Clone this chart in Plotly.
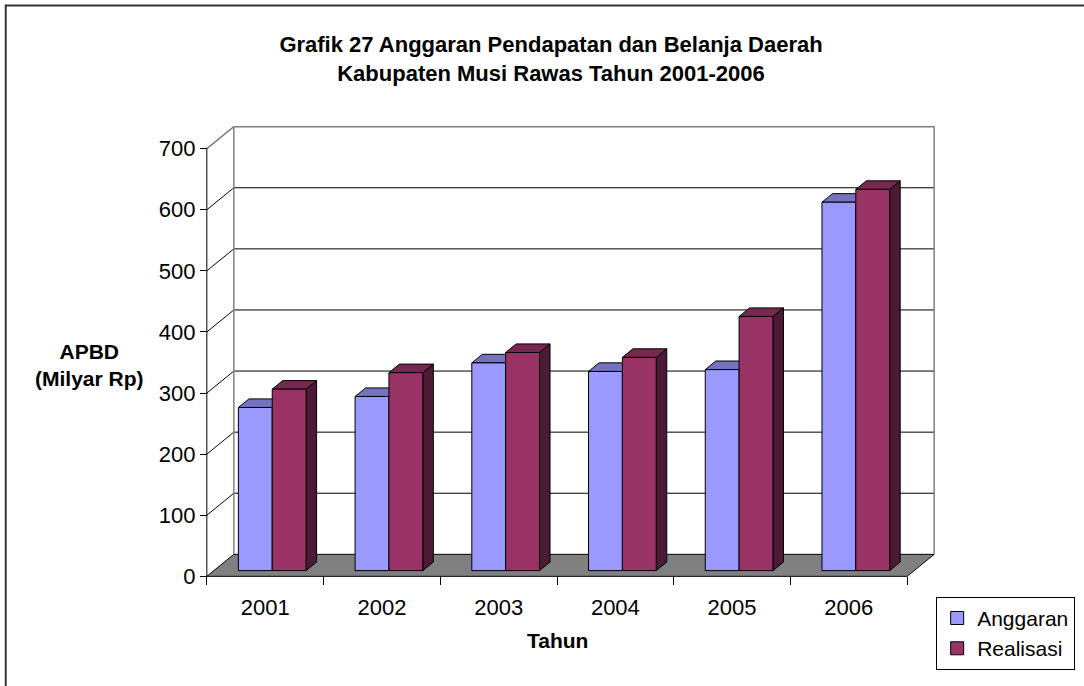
import plotly.graph_objects as go

# ---------------- data ----------------
years = ["2001", "2002", "2003", "2004", "2005", "2006"]
anggaran = [267, 285, 340, 326, 329, 603]
realisasi = [297, 324, 357, 349, 416, 624]
y_ticks = [0, 100, 200, 300, 400, 500, 600, 700]
series_names = ["Anggaran", "Realisasi"]

# ---------------- styling / geometry ----------------
W, H = 1084, 686
FONT = "Arial, Liberation Sans, sans-serif"
DX = 0.2314   # floor depth (x units)
DY = 36.0     # floor depth (value units)
F_FRONT, F_BACK = 0.26, 0.65   # bar depth fractions
BAR_W = 0.29
Y_MAX = 700

COL = {
    "Anggaran": dict(front="#9999FF", top="#7373BF", side="#5C5C99"),
    "Realisasi": dict(front="#993366", top="#772850", side="#4C1A34"),
}

PX_X = 700 / 6
PX_Y = 0.6107
X_AXIS_PX, Y_ZERO_PX = 207, 576.5
PAD_X, PAD_Y = 0.05, 6
n = len(years)
xr = [-0.5 - PAD_X, n - 0.5 + DX + PAD_X]
yr = [-PAD_Y, Y_MAX + DY + PAD_Y]
plot_w = (xr[1] - xr[0]) * PX_X
plot_h = (yr[1] - yr[0]) * PX_Y
ml = X_AXIS_PX - PAD_X * PX_X
mr = W - ml - plot_w
mb = H - (Y_ZERO_PX + PAD_Y * PX_Y)
mt = H - mb - plot_h


def paper_x(px):
    return (px - ml) / plot_w


def paper_y(py):
    return (H - mb - py) / plot_h


fig = go.Figure()


def seg_trace(xs, ys, color, width=1, fill=None, fillcolor=None):
    fig.add_trace(go.Scatter(x=xs, y=ys, mode="lines",
                             line=dict(color=color, width=width),
                             fill=fill, fillcolor=fillcolor,
                             hoverinfo="skip", showlegend=False))


x_left, x_right = -0.5, n - 0.5

# floor
seg_trace([x_left, x_right, x_right + DX, x_left + DX, x_left],
          [0, 0, DY, DY, 0], "#000000", 1, "toself", "#808080")

# back wall gridlines (black) and left-wall diagonals
gx, gy = [], []
for v in y_ticks[1:-1]:
    gx += [x_left + DX, x_right + DX, None]
    gy += [v + DY, v + DY, None]
seg_trace(gx, gy, "#000000", 1)
dxs, dys = [], []
for v in y_ticks[1:-1]:
    dxs += [x_left, x_left + DX, None]
    dys += [v, v + DY, None]
seg_trace(dxs, dys, "#000000", 1)
# wall edges (gray)
seg_trace([x_left, x_left + DX, x_left + DX, None, x_left + DX, x_right + DX, x_right + DX],
          [Y_MAX, Y_MAX + DY, DY, None, Y_MAX + DY, Y_MAX + DY, DY], "#808080", 1.5)

# y axis line
seg_trace([x_left, x_left], [0, Y_MAX], "#000000", 1)

# bars
fdx, fdy = F_FRONT * DX, F_FRONT * DY
bdx, bdy = F_BACK * DX, F_BACK * DY
for si, (name, vals) in enumerate(zip(series_names, [anggaran, realisasi])):
    fx, fy, tx, ty, sx, sy = [], [], [], [], [], []
    for i, v in enumerate(vals):
        x0 = i - BAR_W + si * BAR_W
        x1 = x0 + BAR_W
        fx += [x0 + fdx, x1 + fdx, x1 + fdx, x0 + fdx, x0 + fdx, None]
        fy += [fdy, fdy, v + fdy, v + fdy, fdy, None]
        tx += [x0 + fdx, x1 + fdx, x1 + bdx, x0 + bdx, x0 + fdx, None]
        ty += [v + fdy, v + fdy, v + bdy, v + bdy, v + fdy, None]
        sx += [x1 + fdx, x1 + bdx, x1 + bdx, x1 + fdx, x1 + fdx, None]
        sy += [fdy, bdy, v + bdy, v + fdy, fdy, None]
    c = COL[name]
    seg_trace(sx, sy, "#000000", 1, "toself", c["side"])
    seg_trace(tx, ty, "#000000", 1, "toself", c["top"])
    seg_trace(fx, fy, "#000000", 1, "toself", c["front"])

# legend entries
for name in series_names:
    fig.add_trace(go.Scatter(x=[None], y=[None], mode="markers", name=name,
                             legendgroup=name,
                             marker=dict(symbol="square", size=13, color=COL[name]["front"],
                                         line=dict(color="#000000", width=1))))

fig.update_layout(
    width=W, height=H,
    margin=dict(l=ml, r=mr, t=mt, b=mb, autoexpand=False),
    paper_bgcolor="white", plot_bgcolor="white",
    font=dict(family=FONT, size=21, color="black"),
    title=dict(text="<b>Grafik 27 Anggaran Pendapatan dan Belanja Daerah<br>"
                    "Kabupaten Musi Rawas Tahun 2001-2006</b>",
               x=551 / W, xref="container", xanchor="center",
               y=1 - 52 / H, yref="container", yanchor="middle",
               font=dict(size=22, family=FONT)),
    xaxis=dict(range=xr, tickmode="array", tickvals=list(range(n)), ticktext=years,
               ticks="outside", ticklen=11, tickcolor="rgba(0,0,0,0)",
               minor=dict(tickmode="array",
                          tickvals=[i - 0.5 for i in range(n + 1)],
                          ticks="outside", ticklen=8, tickcolor="black", tickwidth=1,
                          showgrid=False),
               showgrid=False, zeroline=False, showline=False,
               anchor="free", position=paper_y(Y_ZERO_PX),
               tickfont=dict(size=22)),
    yaxis=dict(range=yr, tickmode="array", tickvals=y_ticks,
               ticks="outside", ticklen=7, tickcolor="black", tickwidth=1,
               showgrid=False, zeroline=False, showline=False,
               anchor="free", position=paper_x(X_AXIS_PX),
               tickfont=dict(size=22)),
    legend=dict(x=paper_x(936), y=paper_y(597), xanchor="left", yanchor="top",
                bordercolor="black", borderwidth=1, bgcolor="white",
                font=dict(size=21), tracegroupgap=0, traceorder="grouped",
                itemwidth=30),
    annotations=[
        dict(text="<b>APBD<br>(Milyar Rp)</b>", x=paper_x(90), y=paper_y(365),
             xref="paper", yref="paper", showarrow=False, xanchor="center",
             yanchor="middle", font=dict(size=21)),
        dict(text="<b>Tahun</b>", x=paper_x(558), y=paper_y(641),
             xref="paper", yref="paper", showarrow=False, xanchor="center",
             yanchor="middle", font=dict(size=21)),
    ],
    shapes=[dict(type="rect", xref="paper", yref="paper",
                 x0=paper_x(6), x1=paper_x(W + 10), y0=paper_y(H + 10), y1=paper_y(6),
                 line=dict(color="#333333", width=2), fillcolor="rgba(0,0,0,0)")],
)

fig.write_html("out.html", config={"displayModeBar": False},
               post_script="document.body.style.margin='0';document.body.style.overflow='hidden';")
